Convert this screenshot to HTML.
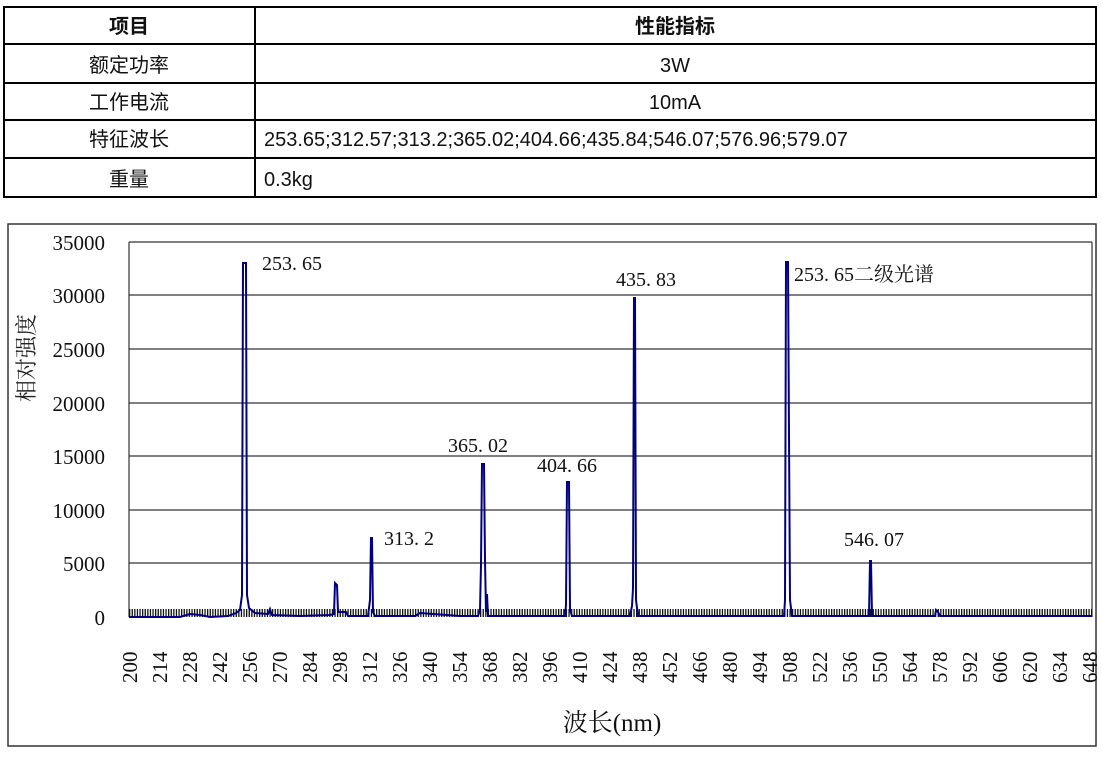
<!DOCTYPE html>
<html><head><meta charset="utf-8"><style>
body{margin:0;background:#fff;width:1102px;height:761px;overflow:hidden}
</style></head><body>
<svg width="1102" height="761" viewBox="0 0 1102 761" xmlns="http://www.w3.org/2000/svg">
<defs>
<pattern id="tk" x="129" y="0" width="2.6" height="10" patternUnits="userSpaceOnUse">
<rect x="0" y="0" width="1.3" height="10" fill="#111"/>
</pattern>
</defs>
<g stroke="#000" stroke-width="2" fill="none">
<rect x="4" y="7" width="1092" height="190"/>
<line x1="4" y1="44" x2="1096" y2="44"/>
<line x1="4" y1="83" x2="1096" y2="83"/>
<line x1="4" y1="120" x2="1096" y2="120"/>
<line x1="4" y1="158" x2="1096" y2="158"/>
<line x1="255" y1="7" x2="255" y2="197"/>
</g>
<g font-family="Liberation Sans, Noto Sans CJK SC, sans-serif" font-size="20" fill="#111">
<text x="129" y="33" text-anchor="middle" font-weight="bold">项目</text>
<text x="675" y="33" text-anchor="middle" font-weight="bold">性能指标</text>
<text x="129" y="72" text-anchor="middle">额定功率</text>
<text x="675" y="72" text-anchor="middle">3W</text>
<text x="129" y="109" text-anchor="middle">工作电流</text>
<text x="675" y="109" text-anchor="middle">10mA</text>
<text x="129" y="146" text-anchor="middle">特征波长</text>
<text x="264" y="146">253.65;312.57;313.2;365.02;404.66;435.84;546.07;576.96;579.07</text>
<text x="129" y="186" text-anchor="middle">重量</text>
<text x="264" y="186">0.3kg</text>
</g>
<rect x="8" y="224" width="1088" height="522" fill="none" stroke="#333" stroke-width="1.5"/>
<g stroke="#333" stroke-width="1.2">
<line x1="129" y1="242" x2="1092" y2="242"/>
<line x1="129" y1="295" x2="1092" y2="295"/>
<line x1="129" y1="349" x2="1092" y2="349"/>
<line x1="129" y1="403" x2="1092" y2="403"/>
<line x1="129" y1="456" x2="1092" y2="456"/>
<line x1="129" y1="510" x2="1092" y2="510"/>
<line x1="129" y1="563" x2="1092" y2="563"/>
<line x1="129" y1="242" x2="129" y2="617"/>
<line x1="1092" y1="242" x2="1092" y2="617"/>
</g>
<rect x="129" y="609" width="963" height="8" fill="url(#tk)"/>
<g font-family="Liberation Serif, Noto Serif CJK SC, serif" font-size="21" fill="#111" text-anchor="end">
<text x="105" y="250">35000</text>
<text x="105" y="303">30000</text>
<text x="105" y="357">25000</text>
<text x="105" y="411">20000</text>
<text x="105" y="464">15000</text>
<text x="105" y="518">10000</text>
<text x="105" y="571">5000</text>
<text x="105" y="625">0</text>
</g>
<text transform="translate(34,358) rotate(-90)" font-family="Noto Serif CJK SC, serif" font-size="22" fill="#222" text-anchor="middle">相对强度</text>
<text x="612" y="731" font-family="Liberation Serif, Noto Serif CJK SC, serif" font-size="25" fill="#111" text-anchor="middle">波长(nm)</text>
<polyline fill="none" stroke="#000080" stroke-width="2" points="
129,617 180,617 190,614 200,615 210,617 228,616 236,613 240,610 242,595 243,263 246,263 247,595 249,608 255,613 268,614 270,609 272,615 300,616 330,615 334,614 335,583 337,585 338,612 346,612 348,616 368,616 370,600 371,538 372,538 373,612 375,616 415,616 420,613 460,616 478,616 480,610 481,565 482,464 484,464 485,560 486,612 487,594 488,616 565,616 566,605 567,482 569,482 570,610 572,616 630,616 632,606 633,588 634,298 635,298 636,600 638,616 784,616 785,600 786,262 788,262 789,435 790,600 792,616 869,616 870,561 871,561 872,616 935,616 936,610 938,612 940,616 1092,616"/>
<g font-family="Liberation Serif, Noto Serif CJK SC, serif" font-size="20" fill="#111">
<text x="262" y="270">253. 65</text>
<text x="616" y="286">435. 83</text>
<text x="794" y="281">253. 65二级光谱</text>
<text x="448" y="452">365. 02</text>
<text x="537" y="472">404. 66</text>
<text x="384" y="545">313. 2</text>
<text x="844" y="546">546. 07</text>
</g>
<g font-family="Liberation Serif, serif" font-size="21" fill="#111">
<text transform="translate(137,683) rotate(-90)">200</text>
<text transform="translate(167,683) rotate(-90)">214</text>
<text transform="translate(197,683) rotate(-90)">228</text>
<text transform="translate(227,683) rotate(-90)">242</text>
<text transform="translate(257,683) rotate(-90)">256</text>
<text transform="translate(287,683) rotate(-90)">270</text>
<text transform="translate(317,683) rotate(-90)">284</text>
<text transform="translate(347,683) rotate(-90)">298</text>
<text transform="translate(377,683) rotate(-90)">312</text>
<text transform="translate(407,683) rotate(-90)">326</text>
<text transform="translate(437,683) rotate(-90)">340</text>
<text transform="translate(467,683) rotate(-90)">354</text>
<text transform="translate(497,683) rotate(-90)">368</text>
<text transform="translate(527,683) rotate(-90)">382</text>
<text transform="translate(557,683) rotate(-90)">396</text>
<text transform="translate(587,683) rotate(-90)">410</text>
<text transform="translate(617,683) rotate(-90)">424</text>
<text transform="translate(647,683) rotate(-90)">438</text>
<text transform="translate(677,683) rotate(-90)">452</text>
<text transform="translate(707,683) rotate(-90)">466</text>
<text transform="translate(737,683) rotate(-90)">480</text>
<text transform="translate(767,683) rotate(-90)">494</text>
<text transform="translate(797,683) rotate(-90)">508</text>
<text transform="translate(827,683) rotate(-90)">522</text>
<text transform="translate(857,683) rotate(-90)">536</text>
<text transform="translate(887,683) rotate(-90)">550</text>
<text transform="translate(917,683) rotate(-90)">564</text>
<text transform="translate(947,683) rotate(-90)">578</text>
<text transform="translate(977,683) rotate(-90)">592</text>
<text transform="translate(1007,683) rotate(-90)">606</text>
<text transform="translate(1037,683) rotate(-90)">620</text>
<text transform="translate(1067,683) rotate(-90)">634</text>
<text transform="translate(1097,683) rotate(-90)">648</text>
</g>
</svg>
</body></html>
